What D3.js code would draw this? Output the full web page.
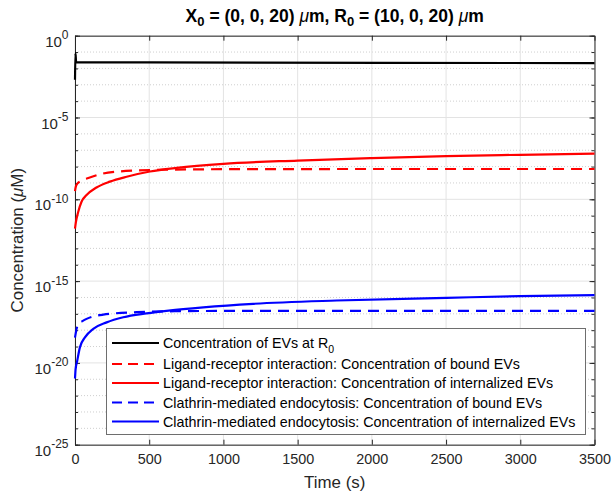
<!DOCTYPE html>
<html><head><meta charset="utf-8">
<script src="https://cdn.jsdelivr.net/npm/d3@7/dist/d3.min.js"></script>
<style>
body{margin:0;background:#fff;}
svg{display:block;font-family:"Liberation Sans",Arial,Helvetica,sans-serif;}
</style></head>
<body><svg id="chart" width="613" height="493"></svg>
<script>
// ---- data ----
const xTicks = [0, 500, 1000, 1500, 2000, 2500, 3000, 3500];
const yMajorExp = [0, -5, -10, -15, -20, -25];
const yMinorExp = d3.range(0, -26, -1);

const tBlack = [0, 3, 8, 500, 3500];
const cBlack = [2.0e-3, 8.5e-2, 2.4e-2, 2.35e-2, 2.1e-2];

const tRedBound = [0, 5, 15, 40, 90, 190, 300, 415, 600, 1000, 2000, 3500];
const cRedBound = [3.16e-10, 5.6e-10, 8.9e-10, 1.32e-9, 2.0e-9, 3.8e-9, 5.0e-9, 5.75e-9, 6.45e-9, 6.9e-9, 7.1e-9, 7.1e-9];

const tRedInt = [0, 6, 22, 44, 78, 145, 235, 348, 505, 685, 1000, 1500, 2000, 2500, 3000, 3500];
const cRedInt = [1.6e-12, 4.0e-12, 1.74e-11, 7.1e-11, 1.82e-10, 5.3e-10, 1.2e-9, 2.4e-9, 5.0e-9, 8.3e-9, 1.48e-8, 2.34e-8, 3.3e-8, 4.4e-8, 5.25e-8, 6.2e-8];

const tBlueBound = [0, 10, 22, 50, 78, 190, 415, 700, 1000, 3500];
const cBlueBound = [3.5e-19, 1.12e-18, 2.4e-18, 3.55e-18, 4.9e-18, 8.9e-18, 1.26e-17, 1.45e-17, 1.5e-17, 1.5e-17];

const tBlueInt = [0, 4, 15, 33, 67, 123, 213, 325, 482, 631, 864, 1201, 1763, 2504, 2998, 3500];
const cBlueInt = [1.12e-21, 4.0e-21, 1.35e-20, 8.9e-20, 3.6e-19, 1.2e-18, 3.0e-18, 6.2e-18, 1.07e-17, 1.58e-17, 2.5e-17, 4.1e-17, 6.5e-17, 9.5e-17, 1.2e-16, 1.38e-16];

const seriesNames = [
  "Concentration of EVs at R",
  "Ligand-receptor interaction: Concentration of bound EVs",
  "Ligand-receptor interaction: Concentration of internalized EVs",
  "Clathrin-mediated endocytosis: Concentration of bound EVs",
  "Clathrin-mediated endocytosis: Concentration of internalized EVs"
];

// ---- layout ----
const svg = d3.select("#chart");
const L = 75, R = 594.5, T = 35.7, B = 444.7;
const axisCol = "#262626";
const FONT = "Liberation Sans, Arial, sans-serif";

const x = d3.scaleLinear().domain([0, 3500]).range([L, R]);
const y = d3.scaleLog().domain([1e-25, 1]).range([B, T]);

// grids
const grid = svg.append("g");
yMinorExp.filter(e => e % 5 !== 0).forEach(e => {
  grid.append("line").attr("x1", L).attr("x2", R).attr("y1", y(Math.pow(10, e))).attr("y2", y(Math.pow(10, e)))
    .attr("stroke", "#cfcfcf").attr("stroke-width", 1).attr("stroke-dasharray", "1,2");
});
yMajorExp.forEach(e => {
  grid.append("line").attr("x1", L).attr("x2", R).attr("y1", y(Math.pow(10, e))).attr("y2", y(Math.pow(10, e)))
    .attr("stroke", "#e3e3e3").attr("stroke-width", 1);
});
xTicks.forEach(t => {
  grid.append("line").attr("x1", x(t)).attr("x2", x(t)).attr("y1", T).attr("y2", B)
    .attr("stroke", "#e3e3e3").attr("stroke-width", 1);
});

// axes via d3 axes (ticks inside)
const xAxisB = d3.axisBottom(x).tickValues(xTicks).tickSizeInner(-5).tickSizeOuter(0).tickPadding(9).tickFormat(d3.format("d"));
const gxb = svg.append("g").attr("transform", `translate(0,${B})`).call(xAxisB);
gxb.select(".domain").attr("stroke", axisCol);
gxb.selectAll(".tick line").attr("stroke", axisCol);
gxb.selectAll(".tick text").attr("fill", axisCol).attr("font-size", 14.4).attr("font-family", FONT);

const xAxisT = d3.axisTop(x).tickValues(xTicks).tickSizeInner(-5).tickSizeOuter(0).tickFormat("");
const gxt = svg.append("g").attr("transform", `translate(0,${T})`).call(xAxisT);
gxt.select(".domain").attr("stroke", axisCol);
gxt.selectAll(".tick line").attr("stroke", axisCol);

const yMinorVals = yMinorExp.map(e => Math.pow(10, e));
const yMajorVals = yMajorExp.map(e => Math.pow(10, e));
[[L, d3.axisLeft], [R, d3.axisRight]].forEach(([pos, fn]) => {
  const gMin = svg.append("g").attr("transform", `translate(${pos},0)`)
    .call(fn(y).tickValues(yMinorVals).tickSizeInner(-3).tickSizeOuter(0).tickFormat(""));
  gMin.select(".domain").attr("stroke", axisCol);
  gMin.selectAll(".tick line").attr("stroke", axisCol);
  const gMaj = svg.append("g").attr("transform", `translate(${pos},0)`)
    .call(fn(y).tickValues(yMajorVals).tickSizeInner(-5).tickSizeOuter(0).tickFormat(""));
  gMaj.select(".domain").attr("stroke", "none");
  gMaj.selectAll(".tick line").attr("stroke", axisCol);
});

// series (drawn over axes like MATLAB)
const clip = svg.append("clipPath").attr("id", "clip").append("rect")
  .attr("x", L - 2).attr("y", T - 2).attr("width", R - L + 4).attr("height", B - T + 4);
const line = d3.line().x(d => x(d[0])).y(d => y(d[1])).curve(d3.curveMonotoneX);
const series = [
  {t: tBlack, c: cBlack, color: "#000000", dash: null},
  {t: tRedBound, c: cRedBound, color: "#ff0000", dash: "11,7"},
  {t: tRedInt, c: cRedInt, color: "#ff0000", dash: null},
  {t: tBlueBound, c: cBlueBound, color: "#0000ff", dash: "11,7"},
  {t: tBlueInt, c: cBlueInt, color: "#0000ff", dash: null}
];
const gl = svg.append("g").attr("clip-path", "url(#clip)");
series.forEach(s => {
  gl.append("path").datum(d3.zip(s.t, s.c)).attr("d", line)
    .attr("fill", "none").attr("stroke", s.color).attr("stroke-width", 2.2)
    .attr("stroke-dasharray", s.dash);
});

// y tick labels with superscripts
yMajorExp.forEach(e => {
  const yy = y(Math.pow(10, e));
  const tx = svg.append("text").attr("x", 68.5).attr("y", yy + 11)
    .attr("text-anchor", "end").attr("fill", axisCol).attr("font-size", 15);
  tx.append("tspan").text("10");
  tx.append("tspan").attr("dy", -7.5).attr("font-size", 12).text(String(e));
});

// axis labels
svg.append("text").attr("x", (L + R) / 2).attr("y", 488).attr("text-anchor", "middle")
  .attr("fill", axisCol).attr("font-size", 16.9).text("Time (s)");
const yl = svg.append("text").attr("transform", `translate(23,${(T + B) / 2}) rotate(-90)`)
  .attr("text-anchor", "middle").attr("fill", axisCol).attr("font-size", 16.9);
yl.append("tspan").text("Concentration (");
yl.append("tspan").attr("font-style", "italic").text("μ");
yl.append("tspan").text("M)");

// title
const tt = svg.append("text").attr("x", (L + R) / 2).attr("y", 22).attr("text-anchor", "middle")
  .attr("fill", "#000").attr("font-size", 17.5).attr("font-weight", "bold");
tt.append("tspan").text("X");
tt.append("tspan").attr("dy", 4).attr("font-size", 13).text("0");
tt.append("tspan").attr("dy", -4).text(" = (0, 0, 20) ");
tt.append("tspan").attr("font-style", "italic").attr("font-weight", "normal").text("μ");
tt.append("tspan").text("m, R");
tt.append("tspan").attr("dy", 4).attr("font-size", 13).text("0");
tt.append("tspan").attr("dy", -4).text(" = (10, 0, 20) ");
tt.append("tspan").attr("font-style", "italic").attr("font-weight", "normal").text("μ");
tt.append("tspan").text("m");

// legend
const lg = svg.append("g");
lg.append("rect").attr("x", 106.5).attr("y", 328.5).attr("width", 479).attr("height", 106)
  .attr("fill", "#fff").attr("stroke", "#6e6e6e").attr("stroke-width", 1);
const rowsY = [343, 364, 383, 402.5, 421.5];
series.forEach((s, i) => {
  const ry = rowsY[i];
  lg.append("line").attr("x1", 112).attr("x2", 159).attr("y1", ry).attr("y2", ry)
    .attr("stroke", s.color).attr("stroke-width", 2.2).attr("stroke-dasharray", s.dash ? "10,6" : null);
  const tx = lg.append("text").attr("x", 163).attr("y", ry + 5).attr("fill", "#000").attr("font-size", 14.3);
  tx.append("tspan").text(seriesNames[i]);
  if (i === 0) tx.append("tspan").attr("dy", 4.5).attr("font-size", 10.5).text("0");
});
</script></body></html>
